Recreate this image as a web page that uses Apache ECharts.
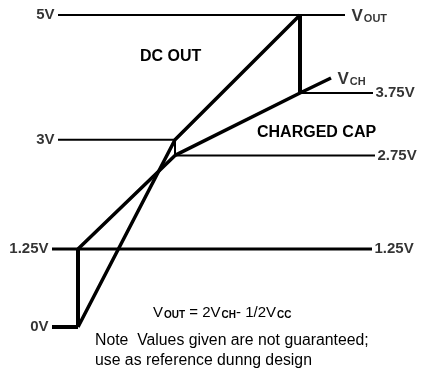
<!DOCTYPE html>
<html>
<head>
<meta charset="utf-8">
<script src="https://cdn.jsdelivr.net/npm/echarts@6/dist/echarts.min.js"></script>
<style>
  html, body { margin: 0; padding: 0; background: #fff; }
  #main { width: 425px; height: 368px; }
</style>
</head>
<body>
<div id="main"></div>
<script>
// horizontal reference levels: [name, startX, endX, volts]
const levelNames = ['5V', '3V', '2.75V', '3.75V', '1.25V', '0V'];
const levelStart = [58, 58, 175, 300, 52, 52];
const levelEnd = [345, 175, 375, 373, 372, 78];
const levelVolts = [5, 3, 2.75, 3.75, 1.25, 0];

// DC out path (time units, volts)
const dcOutX = [78, 175, 300];
const dcOutV = [0, 3, 5];

// charged cap path
const vchX = [78, 175, 300, 331];
const vchV = [1.25, 2.75, 3.75, 3.99];

// vertical steps
const stepX = [78, 300, 175];
const stepFrom = [0, 3.75, 2.75];
const stepTo = [1.25, 5, 3];

// end labels
const leftTags = ['5V', '3V', '1.25V', '0V'];
const leftTagX = [58, 58, 52, 52];
const leftTagV = [5, 3, 1.25, 0];
const rightTags = ['{v|V}{s|OUT}', '{v|V}{s|CH}', '3.75V', '2.75V', '1.25V'];
const rightTagX = [345, 331, 373, 375, 372];
const rightTagV = [5, 3.99, 3.75, 2.75, 1.25];

const font = 'Liberation Sans, Arial, Helvetica, sans-serif';
const levelWidth = { '5V': 2, '3V': 2, '2.75V': 2, '3.75V': 2, '1.25V': 3, '0V': 4 };

const chart = echarts.init(document.getElementById('main'));

const series = [];

levelNames.forEach((name, i) => {
  series.push({
    name: name,
    type: 'line',
    symbol: 'none',
    silent: true,
    lineStyle: { color: '#000', width: levelWidth[name] },
    data: [[levelStart[i], levelVolts[i]], [levelEnd[i], levelVolts[i]]]
  });
});

series.push({
  name: 'DC OUT',
  type: 'line',
  symbol: 'none',
  lineStyle: { color: '#000', width: 3.5 },
  data: dcOutX.map((x, i) => [x, dcOutV[i]])
});

series.push({
  name: 'VCH',
  type: 'line',
  symbol: 'none',
  lineStyle: { color: '#000', width: 3.5 },
  data: vchX.map((x, i) => [x, vchV[i]])
});

stepX.forEach((x, i) => {
  series.push({
    type: 'line',
    symbol: 'none',
    lineStyle: { color: '#000', width: i < 2 ? 4 : 2 },
    data: [[x, stepFrom[i]], [x, stepTo[i]]]
  });
});

const rich = {
  v: { fontSize: 17, lineHeight: 17, verticalAlign: 'top', fontFamily: font, color: '#000' },
  s: { fontSize: 11, lineHeight: 11, padding: [10, 0, 0, 1], verticalAlign: 'bottom', fontFamily: font, fontWeight: 'bold', color: '#000' }
};

series.push({
  type: 'scatter',
  symbolSize: 1,
  itemStyle: { color: 'rgba(0,0,0,0)' },
  silent: true,
  label: {
    show: true,
    position: 'left',
    distance: 3,
    color: '#000',
    fontFamily: font,
    fontWeight: 'bold',
    fontSize: 15,
    formatter: p => leftTags[p.dataIndex]
  },
  data: leftTagX.map((x, i) => [x, leftTagV[i]])
});

series.push({
  type: 'scatter',
  symbolSize: 1,
  itemStyle: { color: 'rgba(0,0,0,0)' },
  silent: true,
  label: {
    show: true,
    position: 'right',
    distance: 2,
    color: '#000',
    fontFamily: font,
    fontWeight: 'bold',
    fontSize: 15,
    rich: rich,
    formatter: p => rightTags[p.dataIndex]
  },
  labelLayout: p => (p.dataIndex < 2 ? { dx: 4, dy: 1 } : {}),
  data: rightTagX.map((x, i) => [x, rightTagV[i]])
});

const option = {
  animation: false,
  grid: { left: 0, right: 0, top: 15, bottom: 41 },
  xAxis: { type: 'value', min: 0, max: 425, show: false },
  yAxis: { type: 'value', min: 0, max: 5, show: false },
  graphic: [
    {
      type: 'text', left: 140, top: 49,
      style: { text: 'DC OUT', font: 'bold 16px ' + font, fill: '#000' }
    },
    {
      type: 'text', left: 257, top: 125,
      style: { text: 'CHARGED CAP', font: 'bold 16px ' + font, fill: '#000' }
    },
    {
      type: 'text', left: 153, top: 301,
      style: {
        text: '{v|V}{s|OUT}{t| = 2}{v|V}{s|CH}{t|- 1/2}{v|V}{s|CC}',
        rich: {
          v: { fontSize: 15, lineHeight: 15, verticalAlign: 'top', fontFamily: font, fill: '#000' },
          t: { fontSize: 15, lineHeight: 15, verticalAlign: 'top', fontFamily: font, fill: '#000' },
          s: { fontSize: 10, lineHeight: 10, padding: [9, 0, 0, 1], verticalAlign: 'bottom', fontFamily: font, fontWeight: 'bold', fill: '#000' }
        }
      }
    },
    {
      type: 'text', left: 95, top: 331,
      style: {
        text: 'Note  Values given are not guaranteed;\nuse as reference dunng design',
        font: '15.8px ' + font, lineHeight: 20, fill: '#000'
      }
    }
  ],
  series: series
};

chart.setOption(option);
</script>
</body>
</html>
